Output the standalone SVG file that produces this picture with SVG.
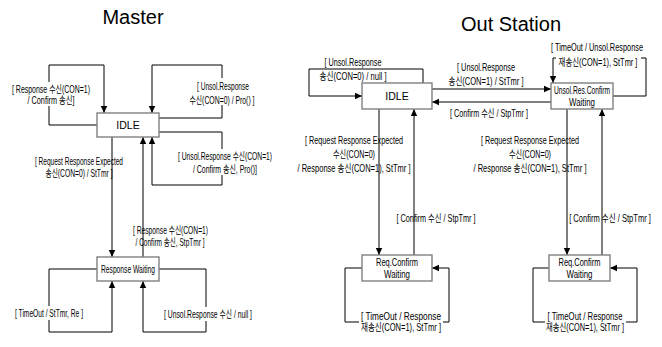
<svg xmlns="http://www.w3.org/2000/svg" width="662" height="347" viewBox="0 0 662 347">
<defs>
<marker id="ah" markerUnits="userSpaceOnUse" markerWidth="8" markerHeight="8" viewBox="0 0 8 8" refX="7" refY="4" orient="auto">
<path d="M0,0.8 L7,4 L0,7.2 Z" fill="#000"/>
</marker>
<style>
.node rect{fill:#fff;stroke:#808080;stroke-width:1.4}
.node text,.lbl text{font-family:"Liberation Sans","Noto Sans CJK KR",sans-serif;font-size:10.5px;fill:#000;text-anchor:middle}
.lbl text.sm{font-size:10px}
.title{font-family:"Liberation Sans","Noto Sans CJK KR",sans-serif;font-size:20px;fill:#000;text-anchor:middle}
#connectors path{fill:none;stroke:#000;stroke-width:1;marker-end:url(#ah)}
.bg{fill:#fff}
</style>
</defs>
<rect width="662" height="347" fill="#fff"/>
<text class="title" x="133" y="24">Master</text>
<text class="title" x="511" y="31">Out Station</text>

<g id="connectors">
<path d="M97,125 H49 V65 H104 V113"/>
<path d="M159,118 H222 V65 H152 V113"/>
<path d="M159,132 H222 V185 H152 V137"/>
<path d="M112,137 V257"/>
<path d="M143,257 V137"/>
<path d="M97,269 H49 V332 H112 V281"/>
<path d="M159,269 H206 V332 H143 V281"/>
<path d="M423,83 V69 H309 V96 H362"/>
<path d="M432,89 H551"/>
<path d="M551,102 H432"/>
<path d="M613,96 H646 V58 H553 V83"/>
<path d="M379,109 V255"/>
<path d="M414,255 V109"/>
<path d="M362,268 H345 V322 H449 V268 H432"/>
<path d="M567,109 V255"/>
<path d="M602,255 V109"/>
<path d="M549,268 H533 V322 H637 V268 H610"/>
</g>

<g id="master-idle" class="node"><rect x="97" y="113" width="62" height="24"/><text x="128" y="129">IDLE</text></g>
<g id="master-response-waiting" class="node"><rect x="97" y="257" width="62" height="24"/><text x="128" y="273" textLength="54" lengthAdjust="spacingAndGlyphs">Response Waiting</text></g>
<g id="os-idle" class="node"><rect x="362" y="83" width="70" height="26"/><text x="397" y="100">IDLE</text></g>
<g id="os-unsol-confirm" class="node"><rect x="551" y="83" width="62" height="26"/><text x="582" y="94" textLength="56" lengthAdjust="spacingAndGlyphs">Unsol.Res.Confirm</text><text x="582" y="106" textLength="26" lengthAdjust="spacingAndGlyphs">Waiting</text></g>
<g id="os-req-confirm-left" class="node"><rect x="362" y="255" width="70" height="26"/><text x="397" y="266" textLength="42" lengthAdjust="spacingAndGlyphs">Req.Confirm</text><text x="397" y="278" textLength="26" lengthAdjust="spacingAndGlyphs">Waiting</text></g>
<g id="os-req-confirm-right" class="node"><rect x="549" y="255" width="61" height="26"/><text x="579.5" y="266" textLength="42" lengthAdjust="spacingAndGlyphs">Req.Confirm</text><text x="579.5" y="278" textLength="26" lengthAdjust="spacingAndGlyphs">Waiting</text></g>

<g class="lbl">
<rect class="bg" x="11" y="82" width="80" height="24"/>
<text x="51" y="92.5" textLength="78" lengthAdjust="spacingAndGlyphs">[ Response 수신(CON=1)</text>
<text x="51" y="103.5" textLength="47" lengthAdjust="spacingAndGlyphs">/ Confirm 송신]</text>
<rect class="bg" x="189" y="78" width="68" height="27"/>
<text x="223" y="89.5" textLength="52" lengthAdjust="spacingAndGlyphs">[ Unsol.Response</text>
<text x="222" y="103.5" textLength="65" lengthAdjust="spacingAndGlyphs">수신(CON=0) / Pro() ]</text>
<rect class="bg" x="177" y="149" width="97" height="26"/>
<text x="225" y="159.5" textLength="94" lengthAdjust="spacingAndGlyphs">[ Unsol.Response 수신(CON=1)</text>
<text x="225" y="172.5" textLength="64" lengthAdjust="spacingAndGlyphs">/ Confirm 송신, Pro()]</text>
<text x="79" y="164.5" textLength="88" lengthAdjust="spacingAndGlyphs">[ Request Response Expected</text>
<text x="79" y="176.5" textLength="67" lengthAdjust="spacingAndGlyphs">송신(CON=0) / StTmr ]</text>
<text x="170.5" y="233.5" textLength="75" lengthAdjust="spacingAndGlyphs">[ Response 수신(CON=1)</text>
<text x="170" y="245.5" textLength="69" lengthAdjust="spacingAndGlyphs">/ Confirm 송신, StpTmr ]</text>
<rect class="bg" x="14" y="306" width="70" height="14"/>
<text x="49" y="316.5" textLength="68" lengthAdjust="spacingAndGlyphs">[ TimeOut / StTmr, Re ]</text>
<rect class="bg" x="163" y="307" width="90" height="14"/>
<text x="208" y="317.5" textLength="88" lengthAdjust="spacingAndGlyphs">[ Unsol.Response 수신 / null ]</text>

<text x="353" y="65.5" textLength="57" lengthAdjust="spacingAndGlyphs">[ Unsol.Response</text>
<text x="353" y="79.5" textLength="67" lengthAdjust="spacingAndGlyphs">송신(CON=0) / null ]</text>
<text x="486" y="70.5" textLength="58" lengthAdjust="spacingAndGlyphs">[ Unsol.Response</text>
<text x="486" y="84.5" textLength="75" lengthAdjust="spacingAndGlyphs">송신(CON=1) / StTmr ]</text>
<text x="489" y="116.5" textLength="78" lengthAdjust="spacingAndGlyphs">[ Confirm 수신 / StpTmr ]</text>
<text class="sm" transform="translate(597,50.5) scale(0.73,1)" x="0" y="0" textLength="126" lengthAdjust="spacingAndGlyphs">[ TimeOut / Unsol.Response</text>
<rect class="bg" x="556" y="55" width="85" height="13"/>
<text class="sm" transform="translate(598,65.5) scale(0.73,1)" x="0" y="0" textLength="108" lengthAdjust="spacingAndGlyphs">재송신(CON=1), StTmr ]</text>
<text x="354" y="143.5" textLength="98" lengthAdjust="spacingAndGlyphs">[ Request Response Expected</text>
<text x="354" y="157.5" textLength="42" lengthAdjust="spacingAndGlyphs">수신(CON=0)</text>
<text x="354" y="171.5" textLength="113" lengthAdjust="spacingAndGlyphs">/ Response 송신(CON=1), StTmr ]</text>
<text x="530" y="143.5" textLength="98" lengthAdjust="spacingAndGlyphs">[ Request Response Expected</text>
<text x="530" y="157.5" textLength="42" lengthAdjust="spacingAndGlyphs">수신(CON=0)</text>
<text x="530" y="171.5" textLength="113" lengthAdjust="spacingAndGlyphs">/ Response 송신(CON=1), StTmr ]</text>
<text x="436" y="221.5" textLength="79" lengthAdjust="spacingAndGlyphs">[ Confirm 수신 / StpTmr ]</text>
<text class="sm" transform="translate(610,221.5) scale(0.75,1)" x="0" y="0" textLength="109" lengthAdjust="spacingAndGlyphs">[ Confirm 수신 / StpTmr ]</text>
<rect class="bg" x="359" y="309" width="84" height="25"/>
<text x="401" y="319.5" textLength="80" lengthAdjust="spacingAndGlyphs">[ TimeOut / Response</text>
<text x="401" y="330.5" textLength="80" lengthAdjust="spacingAndGlyphs">재송신(CON=1), StTmr ]</text>
<rect class="bg" x="545" y="309" width="81" height="25"/>
<text x="585" y="319.5" textLength="75" lengthAdjust="spacingAndGlyphs">[ TimeOut / Response</text>
<text x="585" y="330.5" textLength="78" lengthAdjust="spacingAndGlyphs">재송신(CON=1), StTmr ]</text>
</g>
</svg>
